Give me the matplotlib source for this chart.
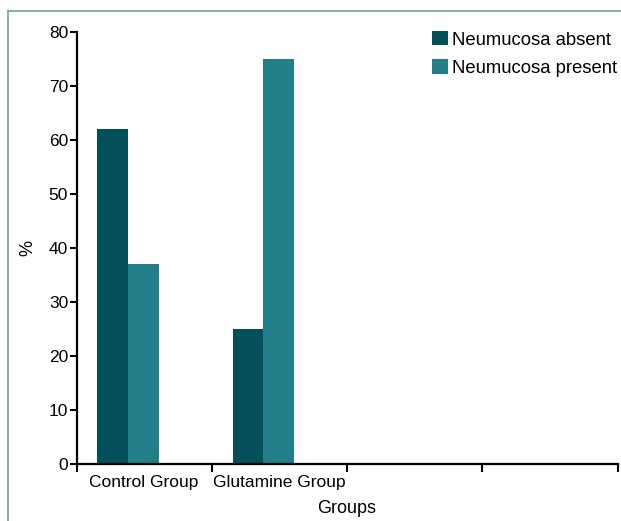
import matplotlib
matplotlib.use("Agg")
import matplotlib.pyplot as plt
from matplotlib.patches import Patch
from matplotlib.lines import Line2D

plt.rcParams['font.family'] = ['Liberation Sans', 'DejaVu Sans']

categories = ["Control Group", "Glutamine Group"]
series_names = ["Neumucosa absent", "Neumucosa present"]
absent = [62.0, 25.0]
present = [37.0, 75.0]
yticks = [0, 10, 20, 30, 40, 50, 60, 70, 80]
colors = ["#03505A", "#227E89"]

W, H = 621, 521
fig = plt.figure(figsize=(W / 100, H / 100), dpi=100)
L, R, B, T = 76.5, 617.7, 463.5, 32.3
ax = fig.add_axes([L / W, 1 - B / H, (R - L) / W, (B - T) / H])

width = 0.226
x_absent = [i + 0.268 for i in range(len(categories))]
x_present = [i + 0.494 for i in range(len(categories))]
ax.bar(x_absent, absent, width=width, color=colors[0], linewidth=0)
ax.bar(x_present, present, width=width, color=colors[1], linewidth=0)

ax.set_xlim(0, 4)
ax.set_ylim(0, 80)
ax.set_yticks(yticks)
ax.set_xticks([0, 1, 2, 3, 4])
ax.set_xticklabels([])
ax.set_xticks([i + 0.5 for i in range(len(categories))], categories, minor=True)
ax.tick_params(axis='x', which='minor', length=0, pad=8, labelsize=12.5)
ax.tick_params(axis='both', which='major', direction='out', length=5, width=1.5,
               labelsize=12.5, color='black', pad=1)
ax.tick_params(axis='x', which='major', length=5.5)

for s in ['top', 'right']:
    ax.spines[s].set_visible(False)
for s in ['left', 'bottom']:
    ax.spines[s].set_linewidth(1.6)
ax.spines['left'].set_capstyle('projecting')

fig.text(347 / W, 1 - 513 / H, "Groups", ha='center', va='baseline', fontsize=13)
fig.text(28 / W, 1 - 248.3 / H, "%", ha='center', va='center', rotation=90, fontsize=13)

handles = [Patch(facecolor=c, edgecolor='none') for c in colors]
ax.legend(handles, series_names, loc='upper left', bbox_to_anchor=(432 / W, 1 - 31.0 / H),
          bbox_transform=fig.transFigure, frameon=False, fontsize=13.3,
          handlelength=0.87, handleheight=0.81, handletextpad=0.22,
          labelspacing=0.58, borderpad=0, borderaxespad=0)

frame_color = "#7BA6A9"
fig.add_artist(Line2D([8.3 / W, 8.3 / W], [0, 1 - 10.7 / H], transform=fig.transFigure,
                      color=frame_color, linewidth=1.3))
fig.add_artist(Line2D([8.3 / W, 1], [1 - 10.7 / H, 1 - 10.7 / H], transform=fig.transFigure,
                      color=frame_color, linewidth=1.3))

fig.savefig("out.png", dpi=100)
